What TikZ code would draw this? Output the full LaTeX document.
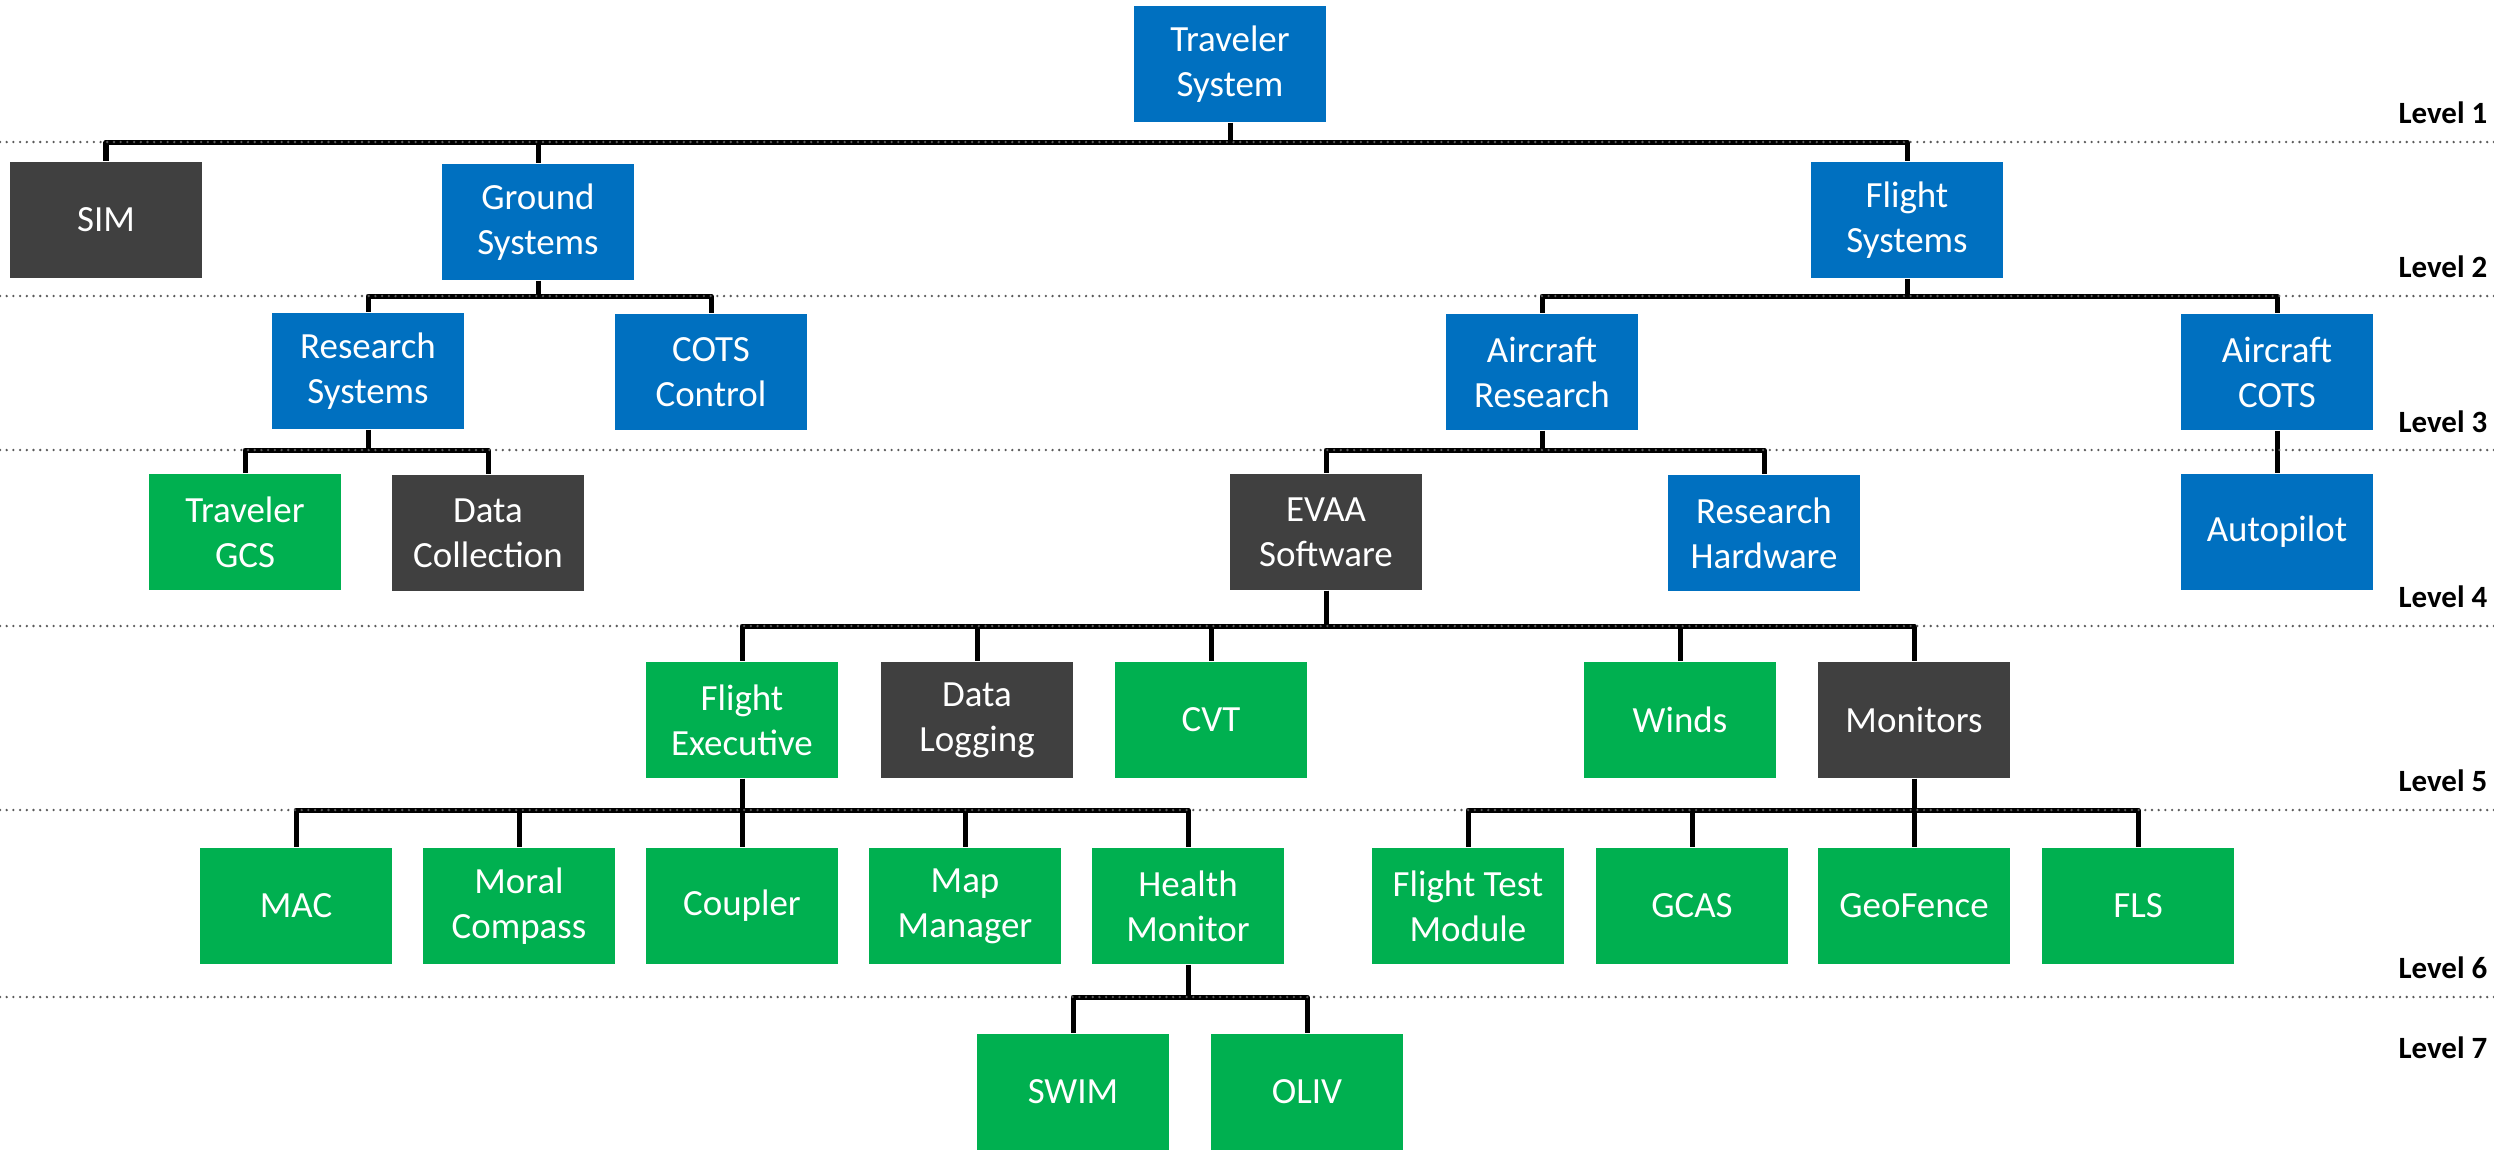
\documentclass[tikz,border=0pt]{standalone}
\usepackage{fontspec}
\setmainfont{Carlito}
\begin{document}
\begin{tikzpicture}[x=0.01cm,y=-0.01cm,
  box/.style={rectangle, minimum width=1.92cm, minimum height=1.16cm, inner sep=0pt,
    align=center, text=white, font=\fontsize{10.5}{12.8}\selectfont},
  bluebox/.style={box, fill=blueC},
  greenbox/.style={box, fill=greenC},
  greybox/.style={box, fill=greyC},
  conn/.style={draw=black, line width=0.05cm, line join=round},
  levelline/.style={draw=dotC, line width=0.026cm, line cap=round, dash pattern=on 0pt off 0.067cm},
  levellabel/.style={anchor=east, inner sep=0pt, font=\fontsize{8.8}{10}\selectfont\bfseries}
]
\definecolor{blueC}{HTML}{0070C0}
\definecolor{greenC}{HTML}{00B050}
\definecolor{greyC}{HTML}{404040}
\definecolor{dotC}{HTML}{595959}

\useasboundingbox (0,0) rectangle (2494,1150);

% level rows
\coordinate (lv1) at (0,142);
\coordinate (lv2) at (0,296);
\coordinate (lv3) at (0,450);
\coordinate (lv4) at (0,626);
\coordinate (lv5) at (0,810);
\coordinate (lv6) at (0,997);
\coordinate (lvend) at (2494,0);

% level 1
\node[bluebox] (trav) at (1230,64) {Traveler\\System};
% level 2
\node[greybox] (sim) at (106,220) {SIM};
\node[bluebox] (ground) at (538,222) {Ground\\Systems};
\node[bluebox] (flight) at (1907,220) {Flight\\Systems};
% level 3
\node[bluebox] (ressys) at (368,371) {Research\\Systems};
\node[bluebox] (cotsc) at (711,372) {COTS\\Control};
\node[bluebox] (acres) at (1542,372) {Aircraft\\Research};
\node[bluebox] (accots) at (2277,372) {Aircraft\\COTS};
% level 4
\node[greenbox] (gcs) at (245,532) {Traveler\\GCS};
\node[greybox] (datacol) at (488,533) {Data\\Collection};
\node[greybox] (evaa) at (1326,532) {EVAA\\Software};
\node[bluebox] (reshw) at (1764,533) {Research\\Hardware};
\node[bluebox] (autop) at (2277,532) {Autopilot};
% level 5
\node[greenbox] (fexec) at (742,720) {Flight\\Executive};
\node[greybox] (dlog) at (977,720) {Data\\Logging};
\node[greenbox] (cvt) at (1211,720) {CVT};
\node[greenbox] (winds) at (1680,720) {Winds};
\node[greybox] (monit) at (1914,720) {Monitors};
% level 6
\node[greenbox] (mac) at (296,906) {MAC};
\node[greenbox] (moral) at (519,906) {Moral\\Compass};
\node[greenbox] (coupler) at (742,906) {Coupler};
\node[greenbox] (mapm) at (965,906) {Map\\Manager};
\node[greenbox] (health) at (1188,906) {Health\\Monitor};
\node[greenbox] (ftm) at (1468,906) {Flight Test\\Module};
\node[greenbox] (gcas) at (1692,906) {GCAS};
\node[greenbox] (geof) at (1914,906) {GeoFence};
\node[greenbox] (fls) at (2138,906) {FLS};
% level 7
\node[greenbox] (swim) at (1073,1092) {SWIM};
\node[greenbox] (oliv) at (1307,1092) {OLIV};

% connectors: parent down to its row, across, down to child
\foreach \p/\c/\r in {trav/sim/lv1, trav/ground/lv1, trav/flight/lv1,
  ground/ressys/lv2, ground/cotsc/lv2, flight/acres/lv2, flight/accots/lv2,
  ressys/gcs/lv3, ressys/datacol/lv3, acres/evaa/lv3, acres/reshw/lv3, accots/autop/lv3,
  evaa/fexec/lv4, evaa/dlog/lv4, evaa/cvt/lv4, evaa/winds/lv4, evaa/monit/lv4,
  fexec/mac/lv5, fexec/moral/lv5, fexec/coupler/lv5, fexec/mapm/lv5, fexec/health/lv5,
  monit/ftm/lv5, monit/gcas/lv5, monit/geof/lv5, monit/fls/lv5,
  health/swim/lv6, health/oliv/lv6}
  \draw[conn] (\p.south) -- (\p.south |- \r) -| (\c.north);

% dotted level separators
\foreach \r in {lv1,lv2,lv3,lv4,lv5,lv6}
  \draw[levelline] (\r) -- (\r -| lvend);

% level labels
\node[levellabel] (l1) at (2488,113) {Level 1};
\node[levellabel] (l2) at (2488,267) {Level 2};
\node[levellabel] (l3) at (2488,422) {Level 3};
\node[levellabel] (l4) at (2488,597) {Level 4};
\node[levellabel] (l5) at (2488,781) {Level 5};
\node[levellabel] (l6) at (2488,968) {Level 6};
\node[levellabel] (l7) at (2488,1048) {Level 7};
\end{tikzpicture}
\end{document}
